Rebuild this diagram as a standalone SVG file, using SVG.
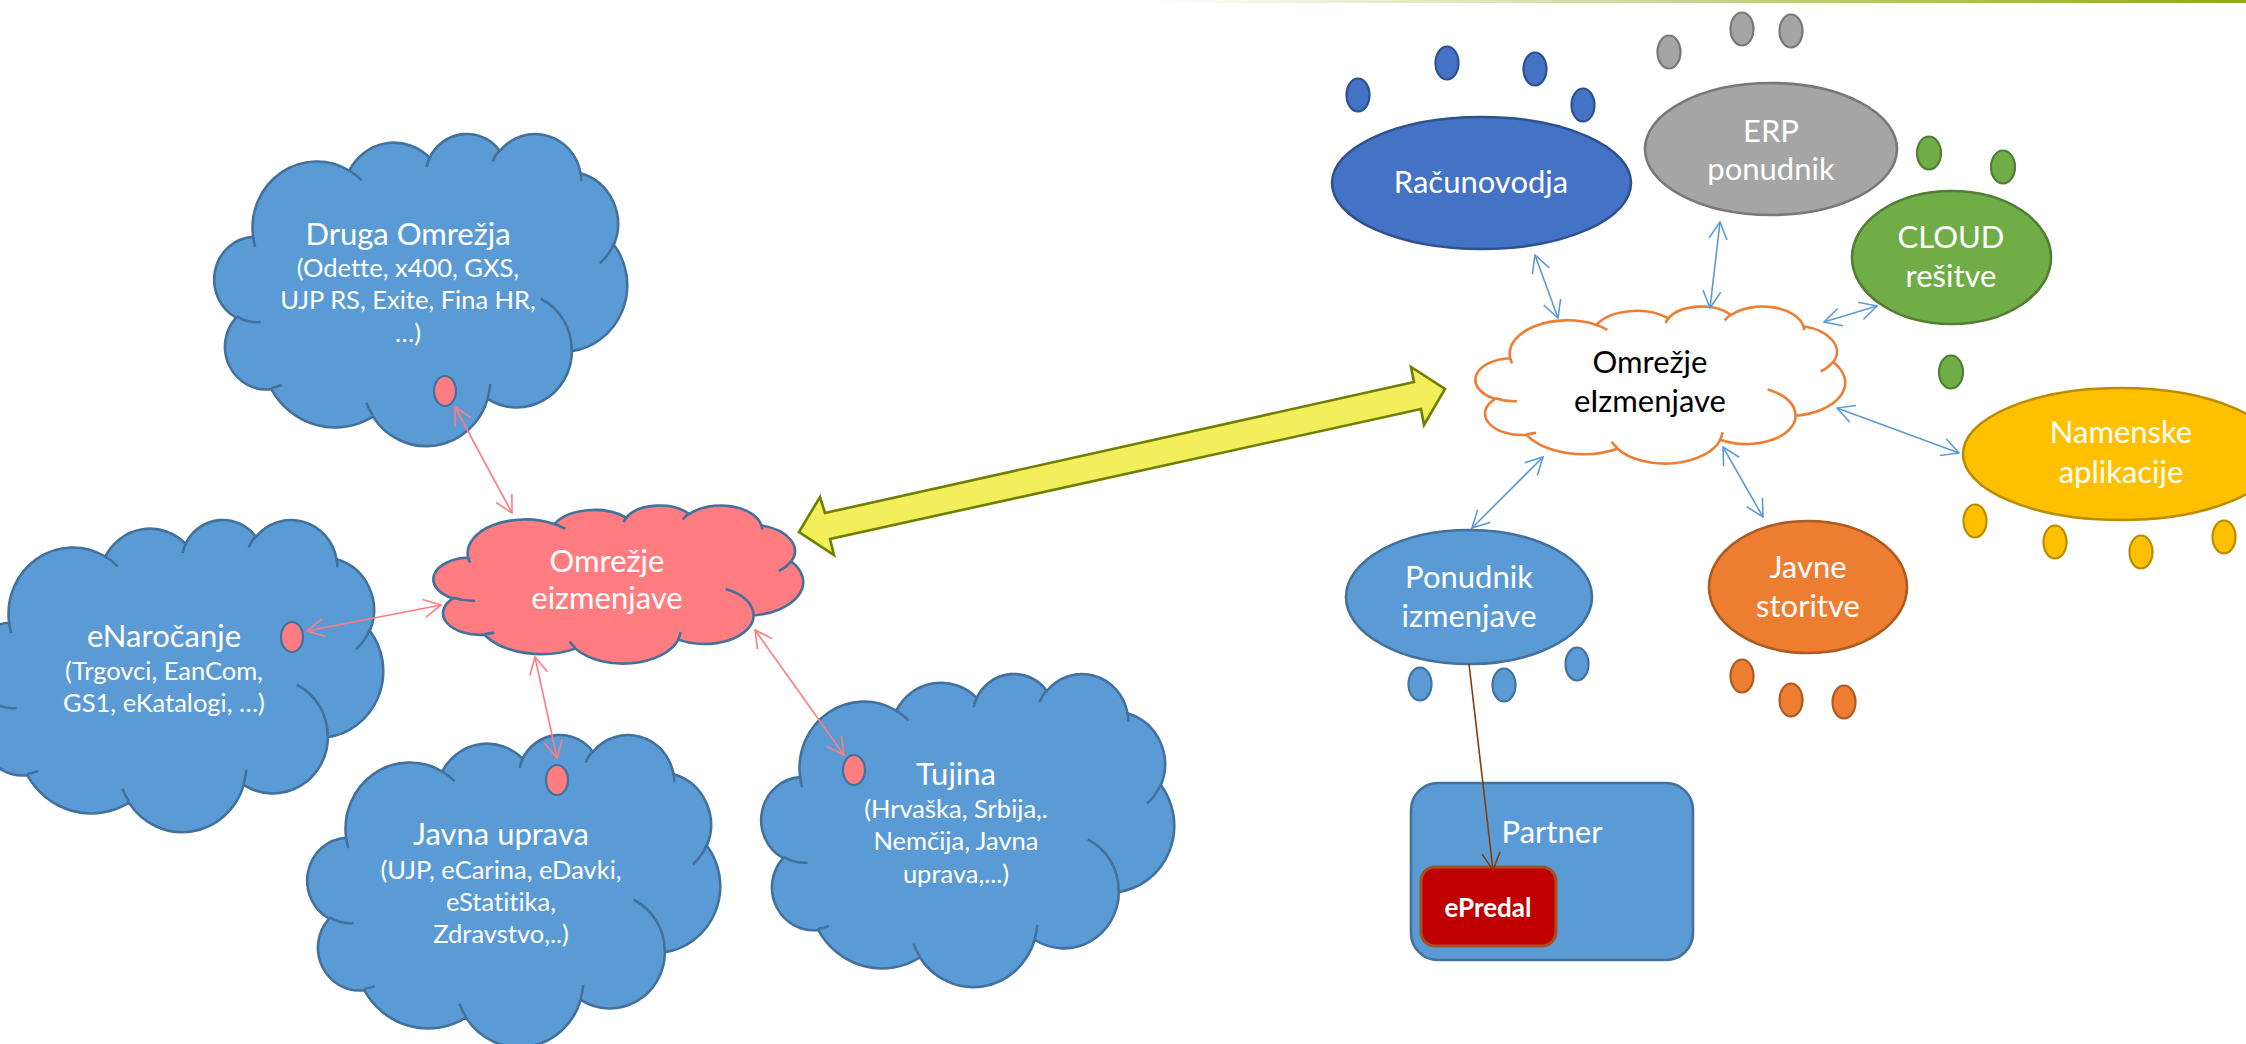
<svg xmlns="http://www.w3.org/2000/svg" xmlns:xlink="http://www.w3.org/1999/xlink" width="2246" height="1044" viewBox="0 0 2246 1044">
<defs>
<style>
.cl{stroke-width:2.6}
.blue{fill:#5B9BD5;stroke:#41719C}
.pink{fill:#FF7C80;stroke:#41719C}
.orng{fill:#FFFFFF;stroke:#ED7D31}
.t{font-family:Lato,"Liberation Sans",sans-serif;fill:#FFFFFF;text-anchor:middle;font-variant-ligatures:none;font-feature-settings:"liga" 0}
.h{font-size:31px}
.s{font-size:25.5px}
.dk{fill:#000000}
.dot{stroke-width:2.2}
.pd{fill:#FF7C80;stroke:#41719C}
.lp{stroke:#FF7C80;stroke-width:1.6;fill:none}
.lb{stroke:#5B9BD5;stroke-width:1.6;fill:none}
.lr{stroke:#843C0C;stroke-width:1.6;fill:none}
.e{stroke-width:2.6}
</style>
<linearGradient id="topg" x1="0" y1="0" x2="1" y2="0">
<stop offset="0" stop-color="#92A81A" stop-opacity="0"/>
<stop offset="1" stop-color="#92A81A"/>
</linearGradient>
<path id="cloud" vector-effect="non-scaling-stroke" d="M9.03,33.26 A15.63,21.27 0 0 1 32.42,12.04 A12.34,16.82 0 0 1 51.98,7.94 A10.10,13.76 0 0 1 69.06,5.74 A11.24,15.27 0 0 1 88.70,12.91 A12.34,16.84 0 0 1 96.81,35.79 A15.68,21.34 0 0 1 86.59,69.92 A13.39,18.21 0 0 1 66.11,85.22 A15.63,21.33 0 0 1 38.16,90.90 A17.87,24.41 0 0 1 13.45,82.11 A10.09,13.70 0 0 1 4.90,59.15 A10.06,13.76 0 0 1 9.03,33.26 Z"/>
<path id="cloudIn" vector-effect="non-scaling-stroke" fill="none" d="M10.86,60.59 A10.06,13.76 0 0 1 5.00,58.75 M16.04,80.78 A10.09,13.70 0 0 1 13.47,81.67 M38.14,90.49 A15.63,21.33 0 0 1 36.60,86.45 M66.73,80.44 A15.63,21.33 0 0 1 66.11,84.86 M79.00,53.13 A13.39,18.21 0 0 1 86.53,69.65 M96.75,35.54 A12.34,16.84 0 0 1 93.40,41.74 M88.71,12.56 A11.24,15.27 0 0 1 88.89,15.48 M67.31,9.15 A11.24,15.27 0 0 1 69.03,5.42 M51.25,10.93 A10.10,13.76 0 0 1 52.08,7.71 M32.41,12.02 A15.63,21.27 0 0 1 35.42,15.14 M9.55,36.55 A15.63,21.27 0 0 1 9.03,33.26"/>
<marker id="mP" viewBox="0 0 20 20" refX="19" refY="10" markerWidth="20" markerHeight="20" markerUnits="userSpaceOnUse" orient="auto-start-reverse"><path d="M2,1 L19,10 L2,19" fill="none" stroke="#FF7C80" stroke-width="1.6"/></marker>
<marker id="mB" viewBox="0 0 20 20" refX="19" refY="10" markerWidth="20" markerHeight="20" markerUnits="userSpaceOnUse" orient="auto-start-reverse"><path d="M2,1 L19,10 L2,19" fill="none" stroke="#5B9BD5" stroke-width="1.6"/></marker>
<marker id="mR" viewBox="0 0 20 20" refX="19" refY="10" markerWidth="20" markerHeight="20" markerUnits="userSpaceOnUse" orient="auto-start-reverse"><path d="M2,1 L19,10 L2,19" fill="none" stroke="#843C0C" stroke-width="1.6"/></marker>
</defs>
<rect width="2246" height="1044" fill="#FFFFFF"/>
<rect x="1146" y="0" width="1100" height="3" fill="url(#topg)"/>

<g id="druga">
<g transform="translate(216,133) scale(4.11,3.12)"><use href="#cloud" class="cl blue"/><use href="#cloudIn" class="cl blue" style="fill:none"/></g>
<text class="t h" x="408" y="245">Druga Omrežja</text>
<text class="t s" x="408" y="277">(Odette, x400, GXS,</text>
<text class="t s" x="408" y="309">UJP RS, Exite, Fina HR,</text>
<text class="t s" x="408" y="342">…)</text>
<ellipse class="pd dot" cx="445" cy="391" rx="11" ry="15"/>
</g>

<g id="enarocanje">
<g transform="translate(-28,519) scale(4.11,3.12)"><use href="#cloud" class="cl blue"/><use href="#cloudIn" class="cl blue" style="fill:none"/></g>
<text class="t h" x="164" y="647">eNaročanje</text>
<text class="t s" x="164" y="680">(Trgovci, EanCom,</text>
<text class="t s" x="164" y="712">GS1, eKatalogi, …)</text>
<ellipse class="pd dot" cx="292" cy="637" rx="11" ry="15"/>
</g>

<g id="javna-uprava">
<g transform="translate(309,734) scale(4.11,3.12)"><use href="#cloud" class="cl blue"/><use href="#cloudIn" class="cl blue" style="fill:none"/></g>
<text class="t h" x="501" y="845">Javna uprava</text>
<text class="t s" x="501" y="879">(UJP, eCarina, eDavki,</text>
<text class="t s" x="501" y="911">eStatitika,</text>
<text class="t s" x="501" y="943">Zdravstvo,..)</text>
<ellipse class="pd dot" cx="557" cy="780" rx="11" ry="15"/>
</g>

<g id="tujina">
<g transform="translate(763,673) scale(4.11,3.13)"><use href="#cloud" class="cl blue"/><use href="#cloudIn" class="cl blue" style="fill:none"/></g>
<text class="t h" x="956" y="785">Tujina</text>
<text class="t s" x="956" y="818">(Hrvaška, Srbija,.</text>
<text class="t s" x="956" y="850">Nemčija, Javna</text>
<text class="t s" x="956" y="883">uprava,...)</text>
<ellipse class="pd dot" cx="854" cy="770" rx="11" ry="15"/>
</g>

<g id="omrezje-pink">
<g transform="translate(435,505) scale(3.68,1.58)"><use href="#cloud" class="cl pink"/><use href="#cloudIn" class="cl pink" style="fill:none"/></g>
<text class="t h" x="607" y="572">Omrežje</text>
<text class="t h" x="607" y="609">eizmenjave</text>
</g>

<g id="omrezje-orange">
<g transform="translate(1477,306) scale(3.68,1.57)"><use href="#cloud" class="cl orng"/><use href="#cloudIn" class="cl orng" style="fill:none"/></g>
<text class="t h dk" x="1650" y="373">Omrežje</text>
<text class="t h dk" x="1650" y="412">eIzmenjave</text>
</g>

<g id="racunovodja">
<ellipse class="e" cx="1481.5" cy="183" rx="149.5" ry="66" fill="#4472C4" stroke="#2F528F"/>
<text class="t h" x="1481" y="193">Računovodja</text>
<g fill="#4472C4" stroke="#2F528F" class="dot">
<ellipse cx="1358" cy="95" rx="11.5" ry="16.5"/>
<ellipse cx="1447" cy="63" rx="11.5" ry="16.5"/>
<ellipse cx="1535" cy="69" rx="11.5" ry="16.5"/>
<ellipse cx="1583" cy="105" rx="11.5" ry="16.5"/>
</g>
</g>

<g id="erp">
<ellipse class="e" cx="1771" cy="149" rx="126" ry="66" fill="#A5A5A5" stroke="#787878"/>
<text class="t h" x="1771" y="142">ERP</text>
<text class="t h" x="1771" y="180">ponudnik</text>
<g fill="#A5A5A5" stroke="#787878" class="dot">
<ellipse cx="1669" cy="52" rx="11.5" ry="16.5"/>
<ellipse cx="1742" cy="29" rx="11.5" ry="16.5"/>
<ellipse cx="1791" cy="31" rx="11.5" ry="16.5"/>
</g>
</g>

<g id="cloud-resitve">
<ellipse class="e" cx="1951.5" cy="257.5" rx="99.5" ry="66.5" fill="#70AD47" stroke="#507E32"/>
<text class="t h" x="1951" y="248">CLOUD</text>
<text class="t h" x="1951" y="287">rešitve</text>
<g fill="#70AD47" stroke="#507E32" class="dot">
<ellipse cx="1929" cy="153" rx="12" ry="16.5"/>
<ellipse cx="2003" cy="167" rx="12" ry="16.5"/>
<ellipse cx="1951" cy="372" rx="12" ry="16.5"/>
</g>
</g>

<g id="namenske">
<ellipse class="e" cx="2121" cy="454" rx="158" ry="66" fill="#FFC000" stroke="#BC8C00"/>
<text class="t h" x="2121" y="443">Namenske</text>
<text class="t h" x="2121" y="483">aplikacije</text>
<g fill="#FFC000" stroke="#BC8C00" class="dot">
<ellipse cx="1975" cy="521" rx="11.5" ry="16.5"/>
<ellipse cx="2055" cy="542" rx="11.5" ry="16.5"/>
<ellipse cx="2141" cy="552" rx="11.5" ry="16.5"/>
<ellipse cx="2224" cy="537" rx="11.5" ry="16.5"/>
</g>
</g>

<g id="ponudnik">
<ellipse class="e" cx="1469" cy="597" rx="123" ry="67" fill="#5B9BD5" stroke="#41719C"/>
<text class="t h" x="1469" y="588">Ponudnik</text>
<text class="t h" x="1469" y="627">izmenjave</text>
<g fill="#5B9BD5" stroke="#41719C" class="dot">
<ellipse cx="1420" cy="684" rx="11.5" ry="16.5"/>
<ellipse cx="1504" cy="685" rx="11.5" ry="16.5"/>
<ellipse cx="1577" cy="664" rx="11.5" ry="16.5"/>
</g>
</g>

<g id="javne-storitve">
<ellipse class="e" cx="1808" cy="587" rx="99" ry="66" fill="#ED7D31" stroke="#AE5A21"/>
<text class="t h" x="1808" y="578">Javne</text>
<text class="t h" x="1808" y="617">storitve</text>
<g fill="#ED7D31" stroke="#AE5A21" class="dot">
<ellipse cx="1742" cy="676" rx="11.5" ry="16.5"/>
<ellipse cx="1791" cy="700" rx="11.5" ry="16.5"/>
<ellipse cx="1844" cy="702" rx="11.5" ry="16.5"/>
</g>
</g>

<g id="partner">
<rect x="1411" y="783" width="282" height="177" rx="27" fill="#5B9BD5" stroke="#41719C" stroke-width="2.6"/>
<text class="t h" x="1552" y="843">Partner</text>
</g>

<g id="epredal">
<rect x="1421" y="867" width="135" height="79" rx="14" fill="#C00000" stroke="#A5501E" stroke-width="3"/>
<text class="t" x="1488" y="917" style="font-size:26px;font-weight:bold">ePredal</text>
</g>

<g id="connectors">
<polygon points="799,532 820,497 825,513 1414,382 1411,367 1445,389 1424,425 1421,409 830,539 834,555" fill="#F3EF5C" stroke="#6F7F00" stroke-width="2.6" stroke-linejoin="miter"/>
<line class="lp" x1="455" y1="407" x2="512" y2="513" marker-start="url(#mP)" marker-end="url(#mP)"/>
<line class="lp" x1="307" y1="631" x2="441" y2="605" marker-start="url(#mP)" marker-end="url(#mP)"/>
<line class="lp" x1="535" y1="657" x2="557" y2="758" marker-start="url(#mP)" marker-end="url(#mP)"/>
<line class="lp" x1="755" y1="630" x2="844" y2="755" marker-start="url(#mP)" marker-end="url(#mP)"/>
<line class="lb" x1="1535" y1="255" x2="1558" y2="318" marker-start="url(#mB)" marker-end="url(#mB)"/>
<line class="lb" x1="1720" y1="222" x2="1710" y2="308" marker-start="url(#mB)" marker-end="url(#mB)"/>
<line class="lb" x1="1824" y1="322" x2="1877" y2="306" marker-start="url(#mB)" marker-end="url(#mB)"/>
<line class="lb" x1="1837" y1="408" x2="1959" y2="453" marker-start="url(#mB)" marker-end="url(#mB)"/>
<line class="lb" x1="1472" y1="528" x2="1543" y2="457" marker-start="url(#mB)" marker-end="url(#mB)"/>
<line class="lb" x1="1723" y1="447" x2="1763" y2="517" marker-start="url(#mB)" marker-end="url(#mB)"/>
<line class="lr" x1="1469" y1="664" x2="1493" y2="870" marker-end="url(#mR)"/>
</g>
</svg>
